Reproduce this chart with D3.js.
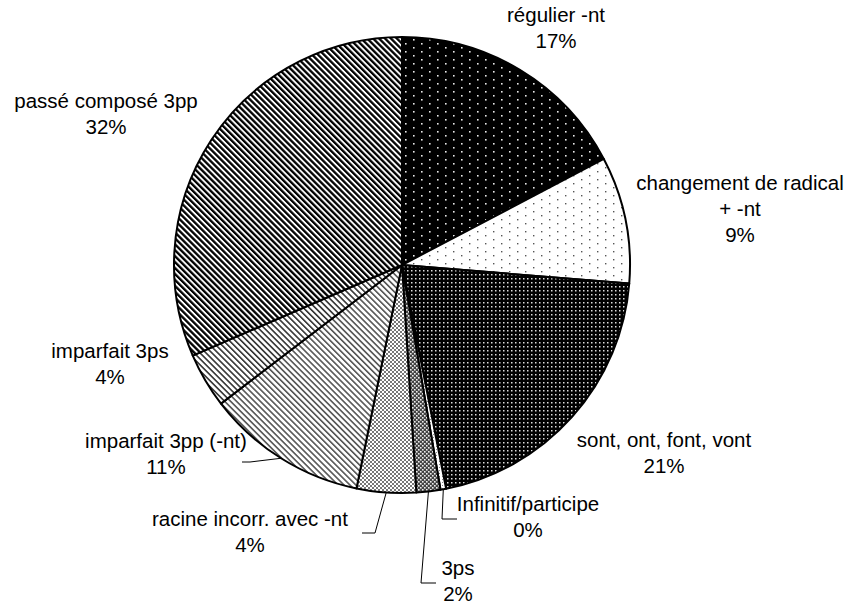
<!DOCTYPE html>
<html>
<head>
<meta charset="utf-8">
<script src="https://cdn.jsdelivr.net/npm/d3@7"></script>
<style>
  body { margin: 0; background: #fff; }
  text { font-family: "Liberation Sans", Arial, sans-serif; font-size: 20.5px; fill: #000; }
</style>
</head>
<body>
<div id="chart"></div>
<script>
var categories = ["régulier -nt", "changement de radical\n+ -nt", "sont, ont, font, vont", "Infinitif/participe",
                  "3ps", "racine incorr. avec -nt", "imparfait 3pp (-nt)", "imparfait 3ps", "passé composé 3pp"],
    shares = [17.3, 9.0, 20.6, 0.4, 1.7, 4.2, 11.4, 3.9, 31.5],
    patternIds = ["pReg", "pChg", "pSont", "pInf", "p3ps", "pRac", "pImp3pp", "pImp3ps", "pPasse"];

var width = 851, height = 607,
    cx = 402, cy = 265, radius = 228;

// label layout: centre x, first line y, and leader elbow (if any)
var labelPos = [
  { x: 556, y: 17 },
  { x: 740, y: 185 },
  { x: 664, y: 442 },
  { x: 528, y: 506, leader: [[442, 519], [457, 519]] },
  { x: 458, y: 570, leader: [[421, 583], [436, 583]] },
  { x: 250, y: 521, leader: [[375, 533], [362, 533]] },
  { x: 166, y: 443, leader: [[250, 462], [242, 462]] },
  { x: 110, y: 353 },
  { x: 106, y: 103 }
];

var svg = d3.select("#chart").append("svg")
    .attr("width", width)
    .attr("height", height);

var defs = svg.append("defs");

function dotPattern(id, bg, fg, size, pw, ph, dots) {
  var p = defs.append("pattern").attr("id", id).attr("patternUnits", "userSpaceOnUse")
      .attr("width", pw).attr("height", ph);
  p.append("rect").attr("width", pw).attr("height", ph).attr("fill", bg);
  dots.forEach(function(d) {
    p.append("rect").attr("x", d[0]).attr("y", d[1]).attr("width", size).attr("height", size).attr("fill", fg);
  });
}
function stripePattern(id, pitch, sw, color) {
  var p = defs.append("pattern").attr("id", id).attr("patternUnits", "userSpaceOnUse")
      .attr("width", pitch).attr("height", pitch)
      .attr("patternTransform", "rotate(-45)");
  p.append("rect").attr("width", pitch).attr("height", pitch).attr("fill", "#fff");
  p.append("rect").attr("x", 0).attr("width", sw).attr("height", pitch).attr("fill", color);
}

dotPattern("pReg", "#000", "#e8e8e8", 1.6, 16, 8, [[3, 2], [11, 6]]);
dotPattern("pChg", "#fff", "#555", 1.4, 16, 8, [[3, 2], [11, 6]]);
dotPattern("pSont", "#000", "#ddd", 1.5, 4, 4, [[1, 1]]);
dotPattern("pInf", "#fff", "#888", 1, 3, 3, [[1, 1]]);
dotPattern("p3ps", "#444", "#eee", 1.6, 4, 4, [[0, 0], [2, 2]]);
dotPattern("pRac", "#fff", "#777", 2, 4, 4, [[0, 0], [2, 2]]);
stripePattern("pImp3pp", 4.2, 1.6, "#555");
stripePattern("pImp3ps", 4.2, 1.6, "#333");
stripePattern("pPasse", 4.2, 2.3, "#000");

var pie = d3.pie().sort(null).value(function(d) { return d; });
var arcs = pie(shares);
var arc = d3.arc().innerRadius(0).outerRadius(radius);
var edge = d3.arc().innerRadius(radius).outerRadius(radius);

var g = svg.append("g").attr("transform", "translate(" + cx + "," + cy + ")");

g.selectAll(".slice")
  .data(arcs)
  .enter().append("path")
    .attr("class", "slice")
    .attr("d", arc)
    .attr("fill", function(d, i) { return "url(#" + patternIds[i] + ")"; })
    .attr("stroke", "#000")
    .attr("stroke-width", 2)
    .attr("stroke-linejoin", "round");

// leader lines
arcs.forEach(function(d, i) {
  var lp = labelPos[i];
  if (!lp.leader) return;
  var c = edge.centroid(d);
  var pts = [[c[0] + cx, c[1] + cy]].concat(lp.leader);
  svg.append("path")
    .attr("d", d3.line()(pts))
    .attr("fill", "none")
    .attr("stroke", "#000")
    .attr("stroke-width", 1);
});

// labels
arcs.forEach(function(d, i) {
  var lp = labelPos[i];
  var lines = categories[i].split("\n");
  lines.push(Math.round(shares[i]) + "%");
  var t = svg.append("text")
    .attr("text-anchor", "middle")
    .attr("dominant-baseline", "middle");
  lines.forEach(function(s, j) {
    t.append("tspan").attr("x", lp.x).attr("y", lp.y + j * 26).text(s);
  });
});
</script>
</body>
</html>
